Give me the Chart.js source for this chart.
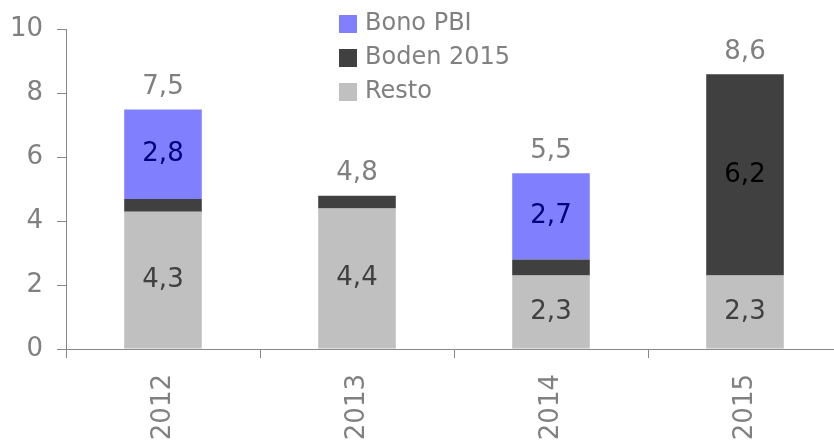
<!DOCTYPE html>
<html>
<head>
<meta charset="utf-8">
<script src="https://cdn.jsdelivr.net/npm/chart.js@4"></script>
<style>
  html, body { margin: 0; padding: 0; background: #fff; overflow: hidden; }
  #wrap { width: 842px; height: 442px; }
</style>
</head>
<body>
<div id="wrap"><canvas id="chart"></canvas></div>
<script>
const years = ['2012', '2013', '2014', '2015'];
const restoValues = [4.3, 4.4, 2.3, 2.3];
const bodenValues = [0.4, 0.4, 0.5, 6.3];
const bonoValues = [2.8, 0, 2.7, 0];
// labels as printed on the chart
const restoLabels = ['4,3', '4,4', '2,3', '2,3'];
const bodenLabels = ['', '', '', '6,2'];
const bonoLabels = ['2,8', '', '2,7', ''];
const totalLabels = ['7,5', '4,8', '5,5', '8,6'];

const FONT = 'DejaVu Sans';
const GREY = '#808080';

// draws the numbers inside / on top of the bars
const valueLabels = {
    id: 'valueLabels',
    afterDatasetsDraw(chart) {
        const ctx = chart.ctx;
        const inner = [
            { idx: 0, labels: restoLabels, color: '#404040' },
            { idx: 1, labels: bodenLabels, color: '#000000' },
            { idx: 2, labels: bonoLabels, color: '#000080' }
        ];
        ctx.save();
        ctx.font = '26px "' + FONT + '"';
        ctx.textAlign = 'center';
        ctx.textBaseline = 'middle';
        inner.forEach(s => {
            const meta = chart.getDatasetMeta(s.idx);
            meta.data.forEach((bar, i) => {
                if (!s.labels[i]) return;
                ctx.fillStyle = s.color;
                ctx.fillText(s.labels[i], bar.x, (bar.y + bar.base) / 2);
            });
        });
        ctx.fillStyle = GREY;
        years.forEach((y, i) => {
            let top = Infinity;
            let x = 0;
            for (let d = 0; d < 3; d++) {
                const bar = chart.getDatasetMeta(d).data[i];
                top = Math.min(top, bar.y);
                x = bar.x;
            }
            ctx.fillText(totalLabels[i], x, top - 22);
        });
        ctx.restore();
    }
};

// legend drawn in the plot area, top to bottom: Bono PBI, Boden 2015, Resto
const boxLegend = {
    id: 'boxLegend',
    afterDraw(chart) {
        const ctx = chart.ctx;
        const order = [2, 1, 0];
        ctx.save();
        ctx.font = '24px "' + FONT + '"';
        ctx.textBaseline = 'middle';
        ctx.textAlign = 'left';
        order.forEach((d, k) => {
            const ds = chart.data.datasets[d];
            const cy = 24 + k * 34;
            ctx.fillStyle = ds.backgroundColor;
            ctx.fillRect(339, cy - 9, 18, 18);
            ctx.fillStyle = GREY;
            ctx.fillText(ds.label, 365, cy);
        });
        ctx.restore();
    }
};

new Chart(document.getElementById('chart').getContext('2d'), {
    type: 'bar',
    data: {
        labels: years,
        datasets: [
            { label: 'Resto', data: restoValues, backgroundColor: '#c0c0c0' },
            { label: 'Boden 2015', data: bodenValues, backgroundColor: '#404040' },
            { label: 'Bono PBI', data: bonoValues, backgroundColor: '#8080ff' }
        ]
    },
    options: {
        responsive: true,
        maintainAspectRatio: false,
        animation: false,
        layout: { padding: { top: 27, right: 0, bottom: 0, left: 0 } },
        datasets: { bar: { barPercentage: 0.4, categoryPercentage: 1.0, borderWidth: 0 } },
        plugins: {
            legend: { display: false },
            tooltip: { enabled: false }
        },
        scales: {
            x: {
                stacked: true,
                afterFit(scale) { scale.height = 93; },
                border: { color: '#888888', width: 1 },
                grid: { offset: true, drawOnChartArea: false, drawTicks: true, tickLength: 9, color: '#888888' },
                ticks: {
                    color: GREY,
                    font: { family: FONT, size: 26 },
                    minRotation: 90,
                    maxRotation: 90,
                    padding: 16
                }
            },
            y: {
                stacked: true,
                min: 0,
                max: 10,
                afterFit(scale) { scale.width = 66; },
                border: { color: '#888888', width: 1 },
                grid: { drawOnChartArea: false, drawTicks: true, tickLength: 9, color: '#888888' },
                ticks: {
                    stepSize: 2,
                    color: GREY,
                    font: { family: FONT, size: 26 },
                    padding: 14
                }
            }
        }
    },
    plugins: [valueLabels, boxLegend]
});
</script>
</body>
</html>
